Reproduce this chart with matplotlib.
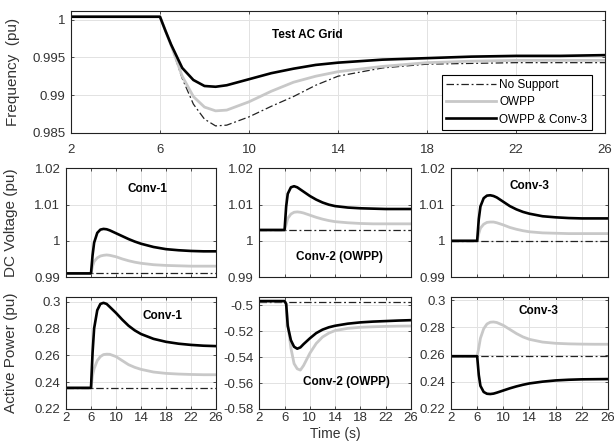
import matplotlib
matplotlib.use("Agg")
import matplotlib.pyplot as plt

plt.rcParams['font.family'] = ['Liberation Sans', 'DejaVu Sans']

# time samples (s)
t = [2, 6, 6.25, 6.5, 7, 7.5, 8, 8.5, 9, 10, 11, 12, 13, 14, 16, 18, 20, 22, 24, 26]
t_flat = [2, 26]

# frequency of the test AC grid (pu)
f_none = [1.0004, 1.0004, 0.9985, 0.9966, 0.9922, 0.9888, 0.9868, 0.9859, 0.9860, 0.9871,
          0.9885, 0.9898, 0.9913, 0.9925, 0.9936, 0.9941, 0.9942, 0.9943, 0.9943, 0.9943]
f_owpp = [1.0004, 1.0004, 0.9985, 0.9966, 0.9925, 0.9898, 0.9884, 0.9879, 0.9880, 0.9891,
          0.9905, 0.9917, 0.9925, 0.9931, 0.9938, 0.9943, 0.9945, 0.9946, 0.9946, 0.9946]
f_both = [1.0004, 1.0004, 0.9985, 0.9967, 0.9936, 0.9920, 0.9912, 0.9911, 0.9913, 0.9921,
          0.9929, 0.9935, 0.9940, 0.9943, 0.9947, 0.9949, 0.9951, 0.9952, 0.9952, 0.9953]

# DC voltage (pu)
v1_none = [0.9911, 0.9911]
v1_owpp = [0.991, 0.991, 0.9930, 0.9943, 0.9953, 0.9958, 0.9960, 0.9961, 0.9960, 0.9956,
           0.9950, 0.9945, 0.9941, 0.9938, 0.9934, 0.9932, 0.9931, 0.9930, 0.9930, 0.9930]
v1_both = [0.991, 0.991, 0.9960, 0.9995, 1.0022, 1.0031, 1.0033, 1.0032, 1.0029, 1.0021,
           1.0013, 1.0005, 0.9998, 0.9992, 0.9983, 0.9977, 0.9974, 0.9972, 0.9971, 0.9971]
v2_none = [1.003, 1.003]
v2_owpp = [1.003, 1.003, 1.0045, 1.0062, 1.0074, 1.0079, 1.0080, 1.0079, 1.0077, 1.0071,
           1.0065, 1.0060, 1.0056, 1.0053, 1.0050, 1.0048, 1.0047, 1.0047, 1.0047, 1.0047]
v2_both = [1.003, 1.003, 1.0095, 1.0130, 1.0148, 1.0151, 1.0148, 1.0142, 1.0136, 1.0124,
           1.0114, 1.0106, 1.0100, 1.0096, 1.0092, 1.0090, 1.0089, 1.0088, 1.0088, 1.0088]
v3_none = [1.0, 1.0]
v3_owpp = [1.0, 1.0, 1.0020, 1.0035, 1.0046, 1.0051, 1.0052, 1.0052, 1.0050, 1.0044,
           1.0037, 1.0032, 1.0028, 1.0025, 1.0022, 1.0021, 1.0020, 1.0020, 1.0020, 1.0020]
v3_both = [1.0, 1.0, 1.0060, 1.0095, 1.0118, 1.0125, 1.0126, 1.0124, 1.0120, 1.0108,
           1.0096, 1.0087, 1.0080, 1.0075, 1.0068, 1.0065, 1.0063, 1.0062, 1.0062, 1.0062]

# active power (pu)
p1_none = [0.2357, 0.2357]
p1_owpp = [0.2357, 0.2357, 0.2450, 0.2500, 0.2560, 0.2590, 0.2605, 0.2608, 0.2607, 0.2590,
           0.2560, 0.2530, 0.2510, 0.2495, 0.2475, 0.2465, 0.2460, 0.2457, 0.2455, 0.2455]
p1_both = [0.2357, 0.2357, 0.2620, 0.2800, 0.2935, 0.2982, 0.2990, 0.2982, 0.2960, 0.2915,
           0.2865, 0.2820, 0.2785, 0.2758, 0.2722, 0.2700, 0.2686, 0.2677, 0.2671, 0.2668]
p2_none = [-0.4972, -0.4972]
p2_owpp = [-0.4968, -0.4968, -0.4990, -0.5140, -0.5330, -0.5450, -0.5490, -0.5500, -0.5465, -0.5370,
           -0.5295, -0.5245, -0.5215, -0.5195, -0.5178, -0.5170, -0.5166, -0.5163, -0.5161, -0.5160]
p2_both = [-0.4968, -0.4968, -0.4990, -0.5160, -0.5270, -0.5320, -0.5335, -0.5325, -0.5300, -0.5255,
           -0.5215, -0.5188, -0.5170, -0.5158, -0.5142, -0.5132, -0.5126, -0.5122, -0.5118, -0.5115]
p3_none = [0.2588, 0.2588]
p3_owpp = [0.2588, 0.2588, 0.2650, 0.2720, 0.2790, 0.2825, 0.2838, 0.2840, 0.2836, 0.2815,
           0.2785, 0.2755, 0.2730, 0.2712, 0.2692, 0.2683, 0.2679, 0.2677, 0.2676, 0.2676]
p3_both = [0.2588, 0.2588, 0.2450, 0.2370, 0.2325, 0.2312, 0.2310, 0.2313, 0.2320, 0.2336,
           0.2352, 0.2366, 0.2378, 0.2388, 0.2401, 0.2410, 0.2415, 0.2418, 0.2419, 0.2420]

xticks = [2, 6, 10, 14, 18, 22, 26]

GRAY = '#c8c8c8'
TXT = '#333333'
dashdot = (0, (6, 2.2, 1.5, 2.2))

fig = plt.figure(figsize=(6.14, 4.46), dpi=100)


def style(ax, ylim, yticks, yticklabels, xlabels=True, xpad=2.5):
    ax.set_xlim(2, 26)
    ax.set_ylim(*ylim)
    ax.set_xticks(xticks)
    ax.set_yticks(yticks)
    ax.set_yticklabels(yticklabels)
    if not xlabels:
        ax.set_xticklabels([])
    ax.grid(True, color='#e2e2e2', lw=0.7)
    ax.set_axisbelow(True)
    ax.tick_params(direction='in', length=2.5, width=0.6, labelsize=9.5,
                   colors=TXT, top=True, right=True)
    ax.tick_params(axis='x', pad=xpad)
    ax.tick_params(axis='y', pad=4)
    for s in ax.spines.values():
        s.set_linewidth(0.8)
        s.set_color('#222222')


def draw(ax, none, owpp, both, flat=True):
    ax.plot(t_flat if flat else t, none, color='#222222', lw=0.9, ls=dashdot, label='No Support')
    ax.plot(t, owpp, color=GRAY, lw=2.0, label='OWPP')
    ax.plot(t, both, color='black', lw=1.9, label='OWPP & Conv-3')


# top: frequency
ax0 = fig.add_axes([0.1156, 0.7025, 0.8697, 0.2735])
draw(ax0, f_none, f_owpp, f_both, flat=False)
style(ax0, (0.985, 1.0012), [0.985, 0.99, 0.995, 1.0], ['0.985', '0.99', '0.995', '1'], xpad=8)
ax0.set_ylabel('Frequency  (pu)', fontsize=11, color=TXT)
ax0.yaxis.set_label_coords(-0.095, 0.5)
ax0.text(0.442, 0.80, 'Test AC Grid', transform=ax0.transAxes, ha='center', va='center',
         fontsize=8.5, fontweight='bold')
leg = ax0.legend(loc='lower right', bbox_to_anchor=(0.975, 0.025), borderaxespad=0,
                 fontsize=8.5, handlelength=4.2, labelspacing=0.45, fancybox=False,
                 framealpha=1, edgecolor='black', borderpad=0.35, handletextpad=0.3)
leg.get_frame().set_linewidth(0.8)

xs = [0.1075, 0.4223, 0.7345]
ws = [0.2443, 0.2471, 0.2557]

# middle row: DC voltage
vdata = [(v1_none, v1_owpp, v1_both), (v2_none, v2_owpp, v2_both), (v3_none, v3_owpp, v3_both)]
vtitles = [('Conv-1', 0.54, 0.81), ('Conv-2 (OWPP)', 0.526, 0.18), ('Conv-3', 0.5, 0.84)]
for i in range(3):
    ax = fig.add_axes([xs[i], 0.3789, ws[i], 0.2433])
    draw(ax, *vdata[i])
    style(ax, (0.99, 1.02), [0.99, 1.0, 1.01, 1.02], ['0.99', '1', '1.01', '1.02'], xlabels=False)
    name, tx, ty = vtitles[i]
    ax.text(tx, ty, name, transform=ax.transAxes, ha='center', va='center',
            fontsize=8.5, fontweight='bold')
    if i == 0:
        ax.set_ylabel('DC Voltage (pu)', fontsize=11, color=TXT)
        ax.yaxis.set_label_coords(-0.32, 0.5)

# bottom row: active power
pdata = [(p1_none, p1_owpp, p1_both), (p2_none, p2_owpp, p2_both), (p3_none, p3_owpp, p3_both)]
ptitles = [('Conv-1', 0.643, 0.83), ('Conv-2 (OWPP)', 0.575, 0.245), ('Conv-3', 0.556, 0.88)]
plims = [(0.22, 0.303), (-0.58, -0.494), (0.22, 0.302)]
pticks = [([0.22, 0.24, 0.26, 0.28, 0.3], ['0.22', '0.24', '0.26', '0.28', '0.3']),
          ([-0.58, -0.56, -0.54, -0.52, -0.5], ['-0.58', '-0.56', '-0.54', '-0.52', '-0.5']),
          ([0.22, 0.24, 0.26, 0.28, 0.3], ['0.22', '0.24', '0.26', '0.28', '0.3'])]
for i in range(3):
    ax = fig.add_axes([xs[i], 0.083, ws[i], 0.25])
    draw(ax, *pdata[i])
    style(ax, plims[i], pticks[i][0], pticks[i][1])
    name, tx, ty = ptitles[i]
    ax.text(tx, ty, name, transform=ax.transAxes, ha='center', va='center',
            fontsize=8.5, fontweight='bold')
    if i == 0:
        ax.set_ylabel('Active Power (pu)', fontsize=11, color=TXT)
        ax.yaxis.set_label_coords(-0.32, 0.5)
    if i == 1:
        ax.set_xlabel('Time (s)', fontsize=10, color=TXT, labelpad=2)

fig.savefig('out.png', dpi=100)
